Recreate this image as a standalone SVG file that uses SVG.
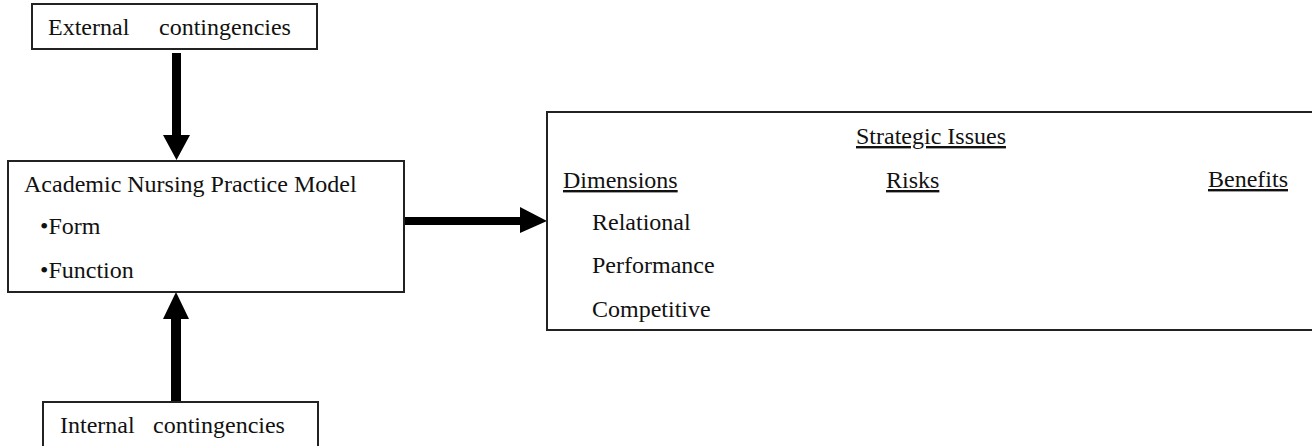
<svg xmlns="http://www.w3.org/2000/svg" width="1312" height="446" viewBox="0 0 1312 446">
<style>
.box{fill:#fff;stroke:#222;stroke-width:2}
.t{font-family:"Liberation Serif","Times New Roman",serif;font-size:24px;fill:#111}
.u{text-decoration:underline}
.arr{fill:#000}
</style>
<rect width="1312" height="446" fill="#fff"/>
<g id="connectors">
<polygon class="arr" points="172,53 181,53 181,135 190,135 176.5,160 163,135 172,135"/>
<polygon class="arr" points="171,401 181,401 181,319 189,319 176,292 163,319 171,319"/>
<polygon class="arr" points="404,217 520,217 520,207 547,221 520,233 520,225 404,225"/>
</g>
<g id="external">
<rect class="box" x="32" y="4" width="285" height="45"/>
<text class="t" y="35"><tspan x="48">External</tspan><tspan x="159">contingencies</tspan></text>
</g>
<g id="academic">
<rect class="box" x="8" y="161" width="396" height="131"/>
<text class="t" x="24" y="192">Academic Nursing Practice Model</text>
<text class="t" x="40" y="234">•Form</text>
<text class="t" x="40" y="278">•Function</text>
</g>
<g id="internal">
<rect class="box" x="43" y="402" width="275" height="50"/>
<text class="t" y="433"><tspan x="60">Internal</tspan><tspan x="153">contingencies</tspan></text>
</g>
<g id="strategic">
<rect class="box" x="547" y="112" width="770" height="218"/>
<text class="t u" x="856" y="144">Strategic Issues</text>
<text class="t u" x="563" y="188">Dimensions</text>
<text class="t u" x="886" y="188">Risks</text>
<text class="t u" x="1208" y="187">Benefits</text>
<text class="t" x="592" y="230">Relational</text>
<text class="t" x="592" y="273">Performance</text>
<text class="t" x="592" y="317">Competitive</text>
</g>
</svg>
